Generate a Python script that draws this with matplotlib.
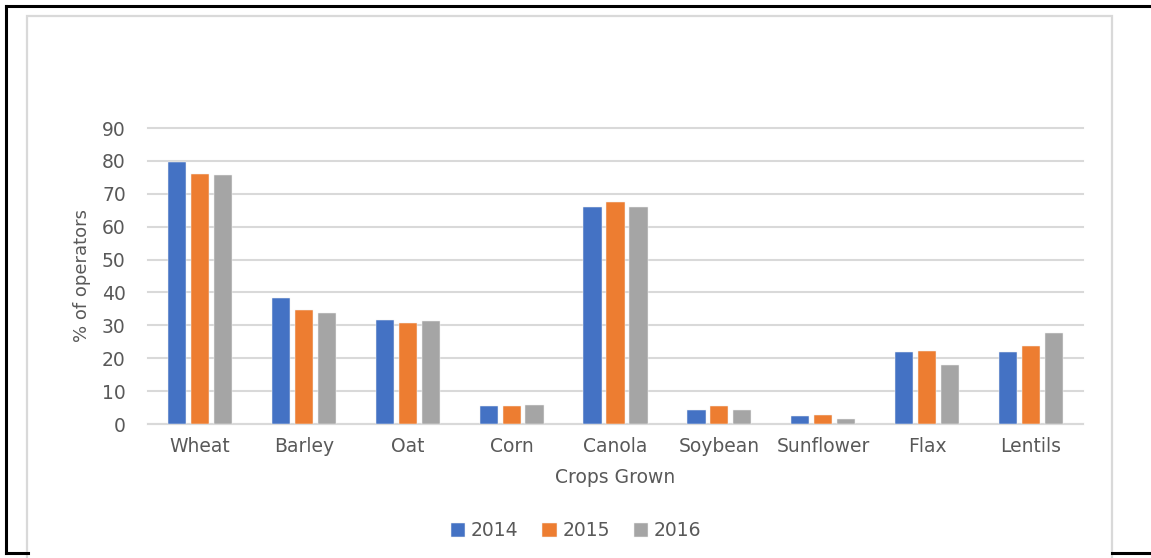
import numpy as np
import matplotlib
matplotlib.use("Agg")
import matplotlib.pyplot as plt
from matplotlib.lines import Line2D
from matplotlib.patches import Rectangle


#Crop categories and yearly shares (% of operators)
CROPS = ["Wheat", "Barley", "Oat", "Corn", "Canola",
         "Soybean", "Sunflower", "Flax", "Lentils"]
YEARS = ["2014", "2015", "2016"]
PCT_2014 = [79.7, 38.4, 31.5, 5.5, 66.0, 4.3, 2.3, 22.0, 22.0]
PCT_2015 = [75.9, 34.7, 30.6, 5.5, 67.4, 5.6, 2.6, 22.3, 23.8]
PCT_2016 = [75.6, 33.8, 31.2, 5.8, 66.0, 4.3, 1.4, 17.8, 27.7]

COLORS = ["#4472C4", "#ED7D31", "#A5A5A5"]
TEXT_GRAY = "#595959"
GRID_GRAY = "#D9D9D9"

plt.rcParams['font.family'] = ['DejaVu Sans']

W, H = 1151, 558
fig = plt.figure(figsize=(W / 100, H / 100), dpi=100)


#Pixel helper for the frame decorations
def px(x, y):
  return x / W, 1 - y / H


#Black frame behind the chart
for (x0, y0), (x1, y1) in [((6, 6), (1151, 6)), ((6, 6), (6, 553)),
                           ((6, 553), (28, 553)), ((1112, 553), (1151, 553))]:
  a, b = px(x0, y0)
  c, d = px(x1, y1)
  fig.add_artist(Line2D([a, c], [b, d], color="black", lw=2.2,
                        solid_capstyle="projecting"))

#White chart area with light gray border
bx, by = px(27, 570)
fig.add_artist(Rectangle((bx, by), (1112 - 27) / W, (570 - 16) / H,
                         facecolor="white", edgecolor=GRID_GRAY, lw=1.6,
                         zorder=1))

ax = fig.add_axes([148 / W, 1 - 424 / H, (1083 - 148) / W, (424 - 128) / H])
ax.set_zorder(2)
ax.patch.set_alpha(0)

x = np.arange(len(CROPS))
width = 0.175
step = 0.221
series = [PCT_2014, PCT_2015, PCT_2016]
for i, (vals, col, yr) in enumerate(zip(series, COLORS, YEARS)):
  ax.bar(x + (i - 1) * step, vals, width, color=col, label=yr,
         edgecolor="#F2F2F2", linewidth=0.35, zorder=3)

ax.set_xlim(-0.5, len(CROPS) - 0.5)
ax.set_ylim(0, 90)
ax.set_yticks(np.arange(0, 91, 10))
ax.yaxis.grid(True, color=GRID_GRAY, lw=1.5, zorder=0)
for gl in ax.get_ygridlines():
  gl.set_clip_on(False)
ax.set_axisbelow(True)
for s in ["top", "right", "left"]:
  ax.spines[s].set_visible(False)
ax.spines["bottom"].set_color(GRID_GRAY)
ax.spines["bottom"].set_linewidth(1.5)

ax.set_xticks(x)
ax.set_xticklabels(CROPS)
ax.tick_params(axis="both", length=0, labelsize=13.5, colors=TEXT_GRAY)
ax.tick_params(axis="x", pad=9)
ax.tick_params(axis="y", pad=16)

ax.set_xlabel("Crops Grown", fontsize=13.5, color=TEXT_GRAY, labelpad=9)
ax.set_ylabel("% of operators", fontsize=13, color=TEXT_GRAY, labelpad=8)

leg = fig.legend(loc="center", bbox_to_anchor=(576 / W, 1 - 531 / H),
                 ncol=3, frameon=False, fontsize=13.5, handlelength=0.75,
                 handleheight=0.75, handletextpad=0.3, columnspacing=1.3,
                 labelcolor=TEXT_GRAY)

fig.savefig("out.png", dpi=100)
